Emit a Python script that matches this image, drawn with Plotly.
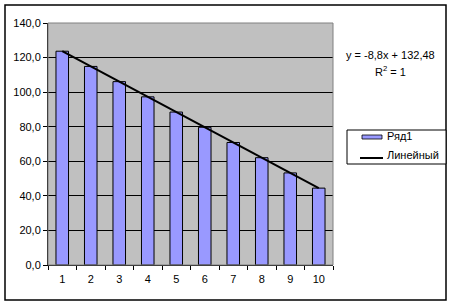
import plotly.graph_objects as go

categories = ["1", "2", "3", "4", "5", "6", "7", "8", "9", "10"]
values = [123.68, 114.88, 106.08, 97.28, 88.48, 79.68, 70.88, 62.08, 53.28, 44.48]
trend = [123.68, 114.88, 106.08, 97.28, 88.48, 79.68, 70.88, 62.08, 53.28, 44.48]
y_ticks = [0, 20, 40, 60, 80, 100, 120, 140]
series_name = "Ряд1"
trend_name = "Линейный"
equation = "y = -8,8x + 132,48"
r2_text = "R<sup>2</sup> = 1"

W, H = 452, 305
L, R, T, B = 48, 119, 23, 40
pw, ph = W - L - R, H - T - B

def px(x):
    return (x - L) / pw

def py(y):
    return (H - B - y) / ph

font = dict(family="Liberation Sans, Arial", size=11, color="black")

fig = go.Figure()
fig.add_trace(go.Bar(x=categories, y=values, name=series_name, width=0.44,
                     marker=dict(color="#9999FF", line=dict(color="black", width=1))))
fig.add_trace(go.Scatter(x=[categories[0], categories[-1]], y=[trend[0], trend[-1]],
                         mode="lines", name=trend_name, line=dict(color="black", width=2)))

fig.update_layout(
    width=W, height=H, margin=dict(l=L, r=R, t=T, b=B),
    paper_bgcolor="white", plot_bgcolor="#C0C0C0",
    showlegend=False, separators=",.", font=font,
)
fig.update_xaxes(type="category", tickson="boundaries", ticks="outside", ticklen=4,
                 tickcolor="black", showline=True, linecolor="black", linewidth=1,
                 showgrid=False, tickfont=font, ticklabelstandoff=4)
fig.update_yaxes(range=[0, 140], tickvals=y_ticks, tickformat=".1f", ticks="outside",
                 ticklen=4, tickcolor="black", showline=True, linecolor="black",
                 linewidth=1, gridcolor="black", gridwidth=1, tickfont=font, zeroline=False)

shapes = []
# plot area border (top/right gray)
shapes.append(dict(type="rect", xref="paper", yref="paper", x0=0, x1=1, y0=0, y1=1,
                   line=dict(color="#808080", width=1), layer="above"))
# outer chart border
shapes.append(dict(type="rect", xref="paper", yref="paper", x0=px(5), x1=px(446),
                   y0=py(300), y1=py(5), line=dict(color="black", width=1.5)))
# legend box
shapes.append(dict(type="rect", xref="paper", yref="paper", x0=px(347), x1=px(446),
                   y0=py(164), y1=py(130), line=dict(color="black", width=1),
                   fillcolor="white"))
# legend swatches
shapes.append(dict(type="rect", xref="paper", yref="paper", x0=px(362), x1=px(382),
                   y0=py(139), y1=py(135), line=dict(color="black", width=0.8),
                   fillcolor="#9999FF"))
shapes.append(dict(type="line", xref="paper", yref="paper", x0=px(360), x1=px(383),
                   y0=py(158), y1=py(158), line=dict(color="black", width=2)))
fig.update_layout(shapes=shapes)

annotations = [
    dict(text=equation, x=px(390), y=py(55), xref="paper", yref="paper",
         showarrow=False, font=font, xanchor="center", yanchor="middle"),
    dict(text=r2_text, x=px(390), y=py(71), xref="paper", yref="paper",
         showarrow=False, font=font, xanchor="center", yanchor="middle"),
    dict(text=series_name, x=px(385), y=py(136), xref="paper", yref="paper",
         showarrow=False, font=font, xanchor="left", yanchor="middle"),
    dict(text=trend_name, x=px(385), y=py(155), xref="paper", yref="paper",
         showarrow=False, font=font, xanchor="left", yanchor="middle"),
]
fig.update_layout(annotations=annotations)

fig.write_html("out.html")
